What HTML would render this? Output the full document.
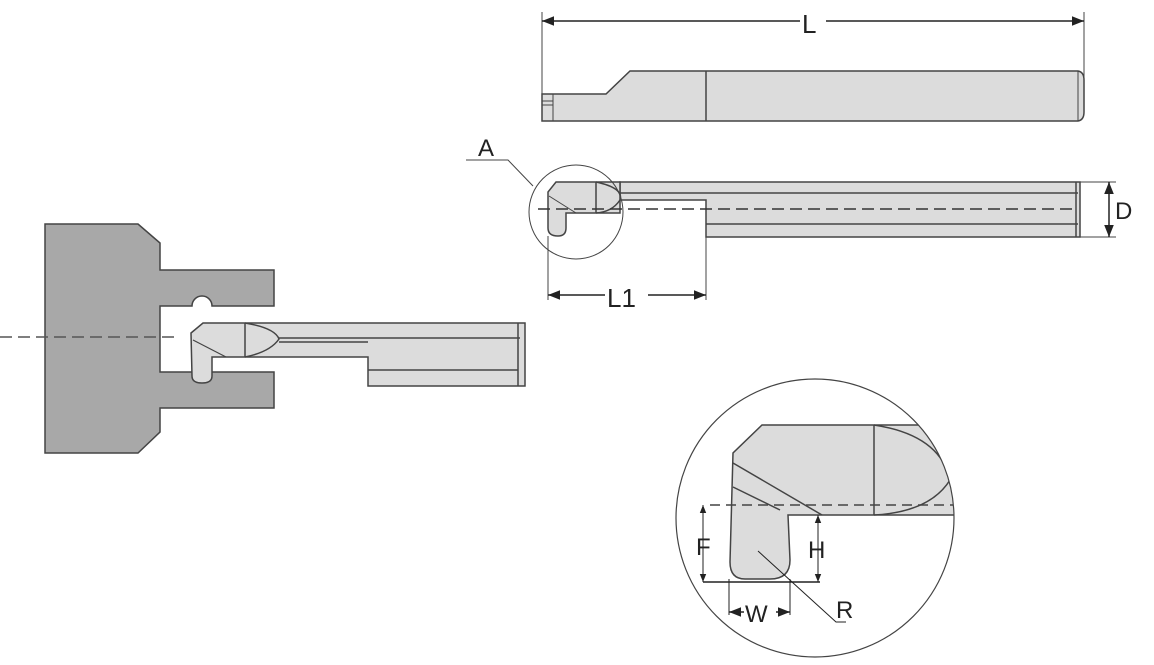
<!DOCTYPE html>
<html><head><style>
html,body{margin:0;padding:0;background:#fff;width:1154px;height:665px;overflow:hidden}
svg text{font-family:"Liberation Sans",sans-serif;fill:#222}
</style></head><body>
<svg width="1154" height="665" viewBox="0 0 1154 665" xmlns="http://www.w3.org/2000/svg">
<defs>
<marker id="ar" viewBox="0 0 10 10" refX="10" refY="5" markerWidth="8" markerHeight="8" orient="auto-start-reverse"><path d="M0,1 L10,5 L0,9 z" fill="#222"/></marker>
<clipPath id="cc"><circle cx="815" cy="518" r="139"/></clipPath>
</defs>
<g stroke="#444" stroke-width="1.5" fill="#dcdcdc">
<!-- top view -->
<line x1="542" y1="12" x2="542" y2="121" stroke-width="1"/>
<line x1="1084" y1="12" x2="1084" y2="100" stroke-width="1"/>
<line x1="542" y1="21" x2="800" y2="21" stroke="#222" marker-start="url(#ar)"/>
<line x1="826" y1="21" x2="1084" y2="21" stroke="#222" marker-end="url(#ar)"/>
<path d="M542,121 L542,94 L606,94 L630,71 L1078,71 Q1084,72 1084,80 L1084,112 Q1084,120 1078,121 Z"/>
<line x1="706" y1="71" x2="706" y2="121"/>
<line x1="1078" y1="71" x2="1078" y2="121" stroke-width="1"/>
<line x1="553" y1="94" x2="553" y2="121" stroke-width="1"/>
<line x1="542" y1="101" x2="553" y2="101" stroke-width="1"/><line x1="542" y1="105" x2="553" y2="105" stroke-width="1"/>
<!-- side view -->
<path d="M620,182 L1080,182 L1080,237 L706,237 L706,200 L620,200 Z"/>
<line x1="620" y1="193" x2="1078" y2="193"/>
<line x1="706" y1="224" x2="1078" y2="224"/>
<line x1="1076" y1="182" x2="1076" y2="237"/>
<path d="M556,182 L620,182 L620,213 L566,213 L566,228 Q566,236 558,236 Q548,236 548,228 L548,192 Z"/>
<path d="M596,182 Q624,188 620,200 Q612,212 596,213" fill="none"/>
<line x1="596" y1="182" x2="596" y2="213"/>
<line x1="549" y1="196" x2="576" y2="213" stroke-width="1"/>
<line x1="538" y1="209" x2="1076" y2="209" stroke="#333" stroke-dasharray="12,6"/>
<circle cx="576" cy="212" r="47" fill="none" stroke-width="1"/>
<polyline points="533,186 508,160 466,160" fill="none" stroke-width="1"/>
<line x1="1076" y1="182" x2="1116" y2="182" stroke-width="1"/>
<line x1="1076" y1="237" x2="1116" y2="237" stroke-width="1"/>
<line x1="1109" y1="182" x2="1109" y2="237" stroke="#222" marker-start="url(#ar)" marker-end="url(#ar)"/>
<line x1="548" y1="236" x2="548" y2="300" stroke-width="1"/>
<line x1="706" y1="237" x2="706" y2="300" stroke-width="1"/>
<line x1="548" y1="295" x2="605" y2="295" stroke="#222" marker-start="url(#ar)"/>
<line x1="648" y1="295" x2="706" y2="295" stroke="#222" marker-end="url(#ar)"/>
<!-- holder -->
<path fill="#a8a8a8" d="M45,224 L138,224 L160,243 L160,270 L274,270 L274,306 L212,306 A10,10 0 0 0 192,306 L160,306 L160,372 L274,372 L274,408 L160,408 L160,432 L138,453 L45,453 Z"/>
<path d="M203,323 L525,323 L525,386 L368,386 L368,357 L212,357 L212,376 Q212,383 202,383 Q192,383 192,376 L191,333 Z"/>
<path d="M245,323 Q275,328 279,339 Q270,352 245,357" fill="none"/>
<line x1="245" y1="323" x2="245" y2="357"/>
<line x1="279" y1="338" x2="520" y2="338"/>
<line x1="279" y1="342" x2="368" y2="342"/>
<line x1="368" y1="370" x2="518" y2="370"/>
<line x1="518" y1="323" x2="518" y2="386"/>
<line x1="193" y1="340" x2="226" y2="357" stroke-width="1.2"/>
<line x1="0" y1="337" x2="175" y2="337" stroke="#555" stroke-dasharray="12,6"/>
<!-- detail -->
<g clip-path="url(#cc)">
<path d="M762,425 L960,425 L960,515 L788,515 L790,560 Q790,579 770,579 L745,579 Q730,579 730,562 L733,453 Z"/>
<line x1="874" y1="425" x2="874" y2="515"/>
<path d="M874,425 Q940,435 950,480 Q930,512 874,515" fill="none"/>
<line x1="733" y1="463" x2="822" y2="515"/>
<line x1="733" y1="487" x2="780" y2="510"/>
<line x1="710" y1="505" x2="960" y2="505" stroke-dasharray="10,6"/>
</g>
<circle cx="815" cy="518" r="139" fill="none" stroke-width="1.2"/>
<line x1="703" y1="505" x2="703" y2="582" stroke="#222" marker-start="url(#ar)" marker-end="url(#ar)" stroke-width="1"/>
<line x1="818" y1="515" x2="818" y2="582" stroke="#222" marker-start="url(#ar)" marker-end="url(#ar)" stroke-width="1"/>
<line x1="703" y1="582" x2="820" y2="582" stroke="#222"/>
<line x1="729" y1="579" x2="729" y2="615" stroke="#222" stroke-width="1"/>
<line x1="790" y1="579" x2="790" y2="615" stroke="#222" stroke-width="1"/>
<line x1="729" y1="612" x2="744" y2="612" stroke="#222" marker-start="url(#ar)"/>
<line x1="776" y1="612" x2="790" y2="612" stroke="#222" marker-end="url(#ar)"/>
<polyline points="758,551 836,622 846,622" fill="none" stroke="#222" stroke-width="1"/>
</g>
<text x="802" y="33" font-size="26">L</text>
<text x="478" y="156" font-size="24">A</text>
<text x="1115" y="219" font-size="24">D</text>
<text x="607" y="307" font-size="26">L1</text>
<text x="696" y="555" font-size="24">F</text>
<text x="808" y="558" font-size="24">H</text>
<text x="745" y="622" font-size="24">W</text>
<text x="836" y="618" font-size="24">R</text>
</svg>
</body></html>
